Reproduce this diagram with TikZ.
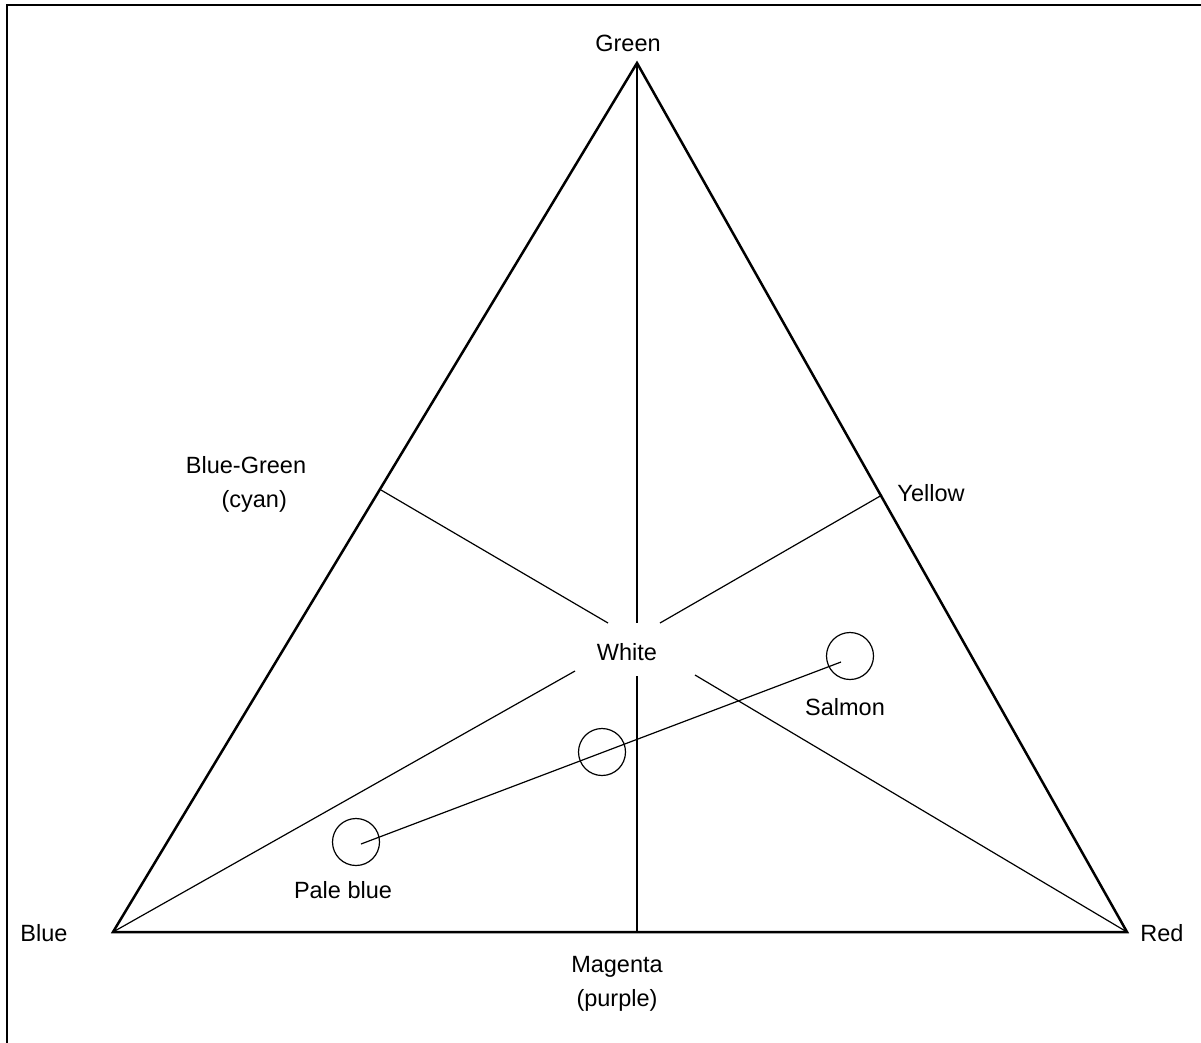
\documentclass[tikz,border=0pt]{standalone}
\usepackage{fontspec}
\setmainfont{Liberation Sans}
\begin{document}
\begin{tikzpicture}[x=1pt,y=-1pt,
  edge/.style={line width=2.5pt,line join=miter},
  thin/.style={line width=1.2pt},
  lbl/.style={inner sep=0pt,font=\fontsize{23.5}{34}\selectfont,align=center},
  dot/.style={circle,draw,line width=1.2pt,minimum size=47pt,inner sep=0pt}]
\useasboundingbox (0,0) rectangle (1201,1042);
\clip (0,0) rectangle (1201,1042);
\draw[line width=2pt] (7,5) rectangle (1260,1100);
% vertices
\coordinate (G) at (637,63);
\coordinate (B) at (113,932);
\coordinate (R) at (1127,932);
\coordinate (M) at (637,932);
\coordinate (C) at (381,490);
\coordinate (Y) at (882,495);
% gap ends around White
\coordinate (gv1) at (637,623);
\coordinate (gv2) at (637,676);
\coordinate (gc1) at (608,623);
\coordinate (gc2) at (695,675);
\coordinate (gy1) at (660,623);
\coordinate (gy2) at (575,671);
\draw[edge] (B) -- (G) -- (R) -- cycle;
\draw[thin] (G) -- (gv1);
\draw[thin] (gv2) -- (M);
\draw[thin] (C) -- (gc1);
\draw[thin] (gc2) -- (R);
\draw[thin] (Y) -- (gy1);
\draw[thin] (gy2) -- (B);
% circles
\node[dot] (pb) at (356,842) {};
\node[dot] (mid) at (602,752) {};
\node[dot] (sa) at (850,656) {};
\coordinate (pbc) at (361,844);
\coordinate (sac) at (841,662);
\draw[thin] (pbc) -- (sac);
% labels
\node[lbl] (tG) at (628,43) {Green};
\node[lbl] (tB) at (44,933) {Blue};
\node[lbl] (tR) at (1162,933) {Red};
\node[lbl] (tM) at (617,984) {Magenta\\(purple)};
\node[lbl] (tC) at (246,484) {Blue-Green\\\hspace*{0.7em}(cyan)};
\node[lbl] (tY) at (931,493) {Yellow};
\node[lbl] (tW) at (627,652) {White};
\node[lbl] (tS) at (845,707) {Salmon};
\node[lbl] (tP) at (343,890) {Pale blue};
\end{tikzpicture}
\end{document}
